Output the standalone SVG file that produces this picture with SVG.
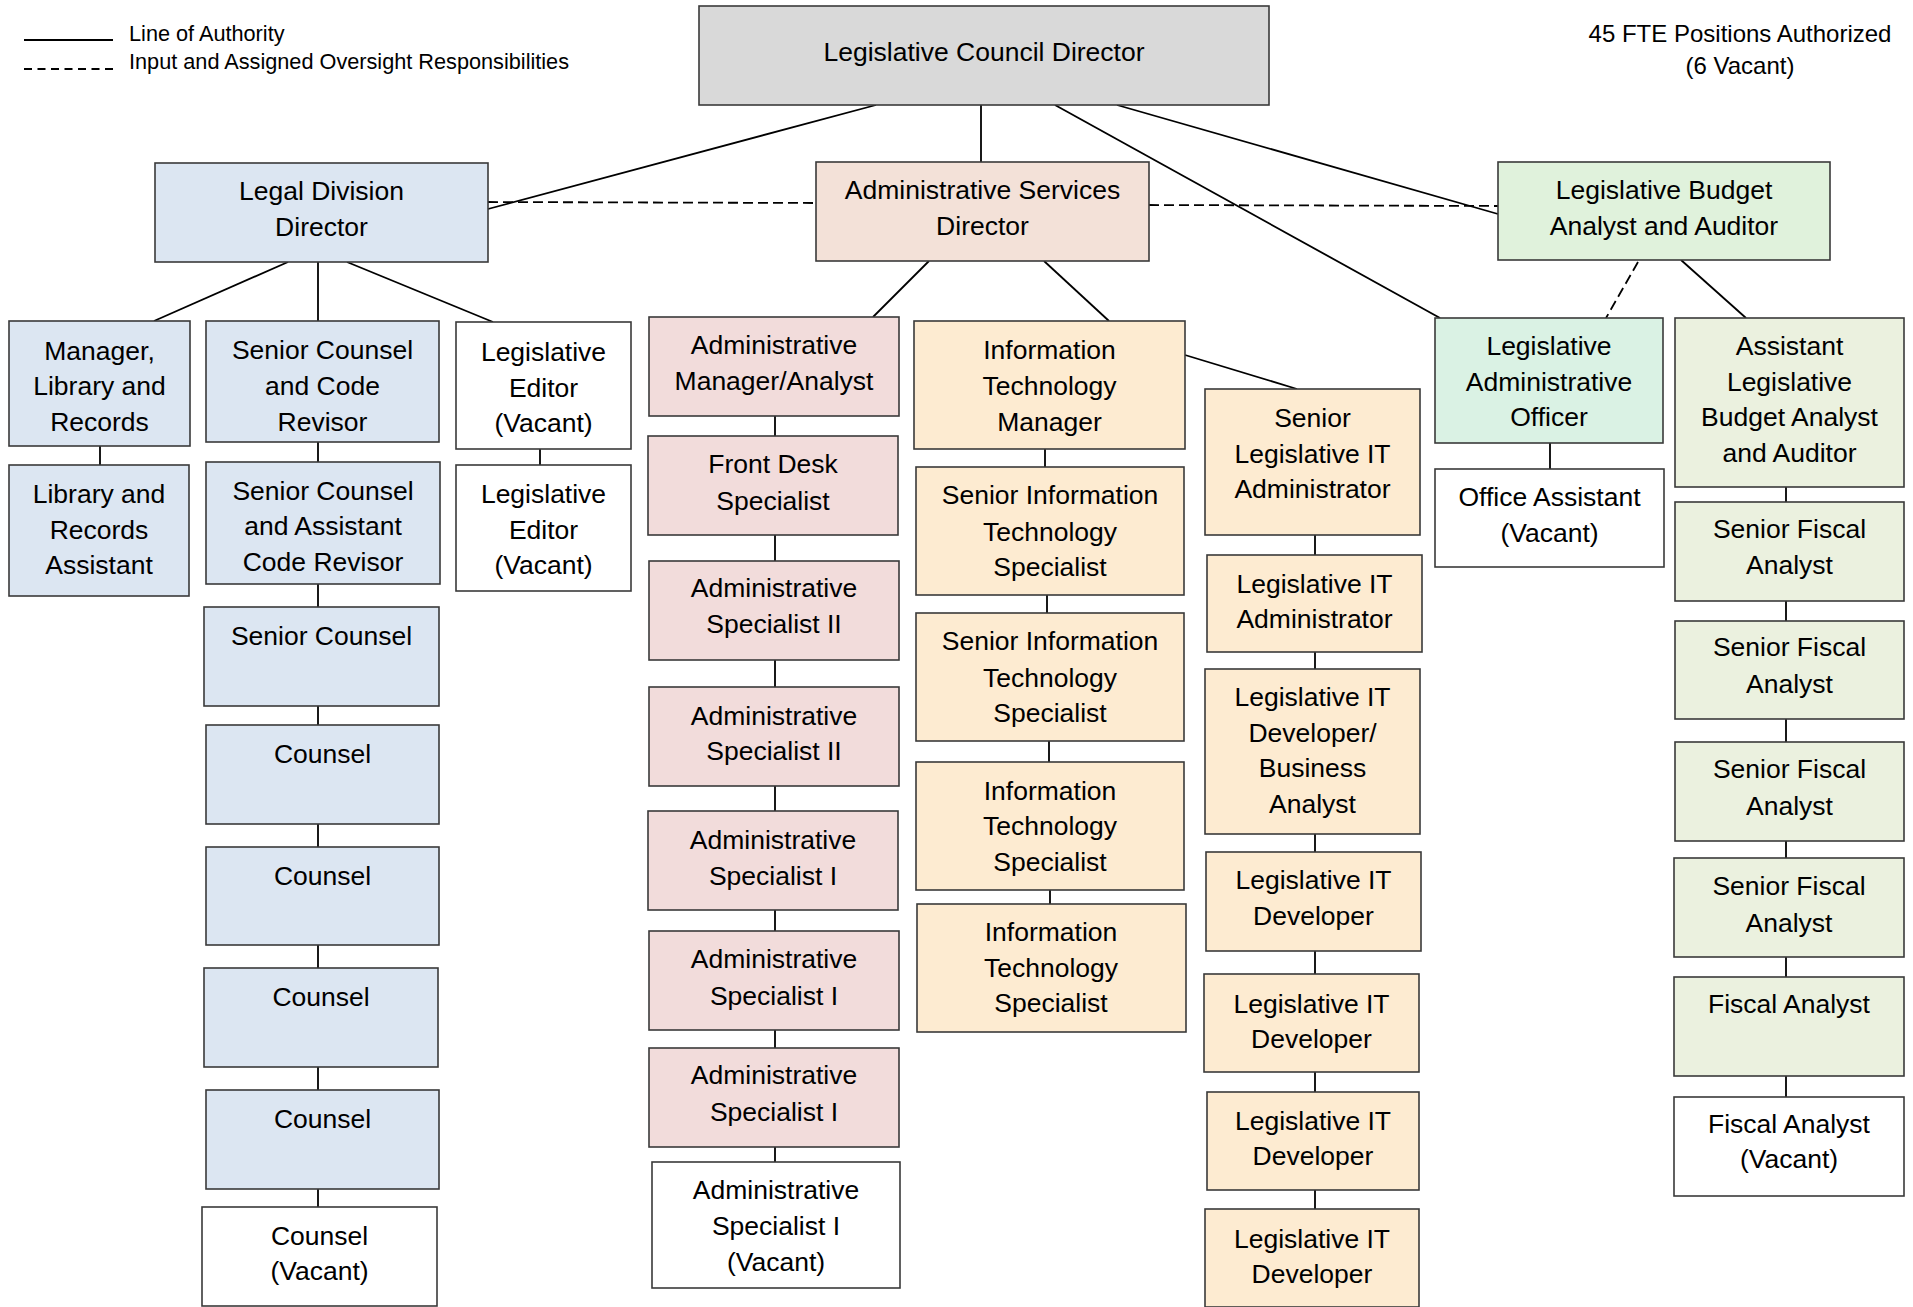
<svg xmlns="http://www.w3.org/2000/svg" width="1913" height="1307" viewBox="0 0 1913 1307">
<style>
  .box { stroke: #3a3a3a; stroke-width: 1.6; }
  .gray { fill: #d9d9d9; }
  .blue { fill: #dce6f2; }
  .peach { fill: #f3e1d8; }
  .pink { fill: #f2dcdb; }
  .orange { fill: #fdebd1; }
  .green { fill: #e0f2dc; }
  .mint { fill: #daf2e4; }
  .olive { fill: #ebf1df; }
  .white { fill: #ffffff; }
  text { font-family: "Liberation Sans", Arial, sans-serif; fill: #000; }
  .n { font-size: 26.5px; text-anchor: middle; }
  .legend { font-size: 21.7px; }
  .note { font-size: 24px; text-anchor: middle; }
  .line { stroke: #000; stroke-width: 1.8; fill: none; }
  .dash { stroke: #000; stroke-width: 1.8; fill: none; stroke-dasharray: 10 5; }
</style>
<rect x="0" y="0" width="1913" height="1307" fill="#ffffff"/>

<g id="legend">
  <line class="line" x1="24" y1="40" x2="113" y2="40"/>
  <line class="dash" x1="24" y1="69" x2="113" y2="69" style="stroke-dasharray:8 5.5"/>
  <text class="legend" x="129" y="41">Line of Authority</text>
  <text class="legend" x="129" y="69">Input and Assigned Oversight Responsibilities</text>
</g>
<g id="fte-note">
  <text class="note" x="1740" y="42">45 FTE Positions Authorized</text>
  <text class="note" x="1740" y="74">(6 Vacant)</text>
</g>

<g id="connectors">
  <!-- top level -->
  <line class="line" x1="876" y1="105" x2="488" y2="209"/>
  <line class="line" x1="981" y1="105" x2="981" y2="162"/>
  <line class="line" x1="1055" y1="105" x2="1440" y2="318"/>
  <line class="line" x1="1117" y1="105" x2="1498" y2="214"/>
  <line class="dash" x1="488" y1="202" x2="816" y2="203"/>
  <line class="dash" x1="1149" y1="205" x2="1498" y2="206"/>
  <line class="dash" x1="1638" y1="262" x2="1606" y2="318"/>
  <line class="line" x1="1681" y1="260" x2="1746" y2="318"/>
  <!-- legal -->
  <line class="line" x1="288" y1="262" x2="154" y2="321"/>
  <line class="line" x1="318" y1="262" x2="318" y2="321"/>
  <line class="line" x1="347" y1="262" x2="493" y2="322"/>
  <line class="line" x1="100" y1="446" x2="100" y2="465"/>
  <line class="line" x1="540" y1="449" x2="540" y2="465"/>
  <line class="line" x1="318" y1="442" x2="318" y2="462"/>
  <line class="line" x1="318" y1="584" x2="318" y2="607"/>
  <line class="line" x1="318" y1="706" x2="318" y2="725"/>
  <line class="line" x1="318" y1="824" x2="318" y2="847"/>
  <line class="line" x1="318" y1="945" x2="318" y2="968"/>
  <line class="line" x1="318" y1="1067" x2="318" y2="1090"/>
  <line class="line" x1="318" y1="1189" x2="318" y2="1207"/>
  <!-- admin -->
  <line class="line" x1="929" y1="261" x2="873" y2="317"/>
  <line class="line" x1="1044" y1="261" x2="1109" y2="321"/>
  <line class="line" x1="775" y1="416" x2="775" y2="436"/>
  <line class="line" x1="775" y1="535" x2="775" y2="561"/>
  <line class="line" x1="775" y1="660" x2="775" y2="687"/>
  <line class="line" x1="775" y1="786" x2="775" y2="811"/>
  <line class="line" x1="775" y1="910" x2="775" y2="931"/>
  <line class="line" x1="775" y1="1030" x2="775" y2="1048"/>
  <line class="line" x1="775" y1="1147" x2="775" y2="1162"/>
  <!-- IT -->
  <line class="line" x1="1045" y1="449" x2="1045" y2="467"/>
  <line class="line" x1="1047" y1="595" x2="1047" y2="613"/>
  <line class="line" x1="1049" y1="741" x2="1049" y2="762"/>
  <line class="line" x1="1050" y1="890" x2="1050" y2="904"/>
  <line class="line" x1="1185" y1="355" x2="1297" y2="389"/>
  <line class="line" x1="1315" y1="535" x2="1315" y2="555"/>
  <line class="line" x1="1315" y1="652" x2="1315" y2="669"/>
  <line class="line" x1="1315" y1="834" x2="1315" y2="852"/>
  <line class="line" x1="1315" y1="951" x2="1315" y2="974"/>
  <line class="line" x1="1315" y1="1072" x2="1315" y2="1092"/>
  <line class="line" x1="1315" y1="1190" x2="1315" y2="1209"/>
  <!-- budget -->
  <line class="line" x1="1550" y1="443" x2="1550" y2="469"/>
  <line class="line" x1="1786" y1="487" x2="1786" y2="502"/>
  <line class="line" x1="1786" y1="601" x2="1786" y2="621"/>
  <line class="line" x1="1786" y1="719" x2="1786" y2="742"/>
  <line class="line" x1="1786" y1="841" x2="1786" y2="858"/>
  <line class="line" x1="1786" y1="957" x2="1786" y2="977"/>
  <line class="line" x1="1786" y1="1076" x2="1786" y2="1097"/>
</g>

<g id="council-director"><rect class="box gray" x="699" y="6" width="570" height="99"/><text class="n" x="984" y="61">Legislative Council Director</text></g>
<g id="legal-director"><rect class="box blue" x="155" y="163" width="333" height="99"/><text class="n" x="321.5" y="200">Legal Division</text><text class="n" x="321.5" y="236">Director</text></g>
<g id="admin-director"><rect class="box peach" x="816" y="162" width="333" height="99"/><text class="n" x="982.5" y="199">Administrative Services</text><text class="n" x="982.5" y="235">Director</text></g>
<g id="budget-analyst-auditor"><rect class="box green" x="1498" y="162" width="332" height="98"/><text class="n" x="1664" y="199">Legislative Budget</text><text class="n" x="1664" y="235">Analyst and Auditor</text></g>

<g id="manager-library"><rect class="box blue" x="9" y="321" width="181" height="125"/><text class="n" x="99.5" y="360">Manager,</text><text class="n" x="99.5" y="395">Library and</text><text class="n" x="99.5" y="431">Records</text></g>
<g id="library-assistant"><rect class="box blue" x="9" y="465" width="180" height="131"/><text class="n" x="99" y="503">Library and</text><text class="n" x="99" y="539">Records</text><text class="n" x="99" y="574">Assistant</text></g>
<g id="senior-counsel-code-revisor"><rect class="box blue" x="206" y="321" width="233" height="121"/><text class="n" x="322.5" y="359">Senior Counsel</text><text class="n" x="322.5" y="395">and Code</text><text class="n" x="322.5" y="431">Revisor</text></g>
<g id="senior-counsel-asst-revisor"><rect class="box blue" x="206" y="462" width="234" height="122"/><text class="n" x="323" y="500">Senior Counsel</text><text class="n" x="323" y="535">and Assistant</text><text class="n" x="323" y="571">Code Revisor</text></g>
<g id="senior-counsel"><rect class="box blue" x="204" y="607" width="235" height="99"/><text class="n" x="321.5" y="645">Senior Counsel</text></g>
<g id="counsel-1"><rect class="box blue" x="206" y="725" width="233" height="99"/><text class="n" x="322.5" y="763">Counsel</text></g>
<g id="counsel-2"><rect class="box blue" x="206" y="847" width="233" height="98"/><text class="n" x="322.5" y="885">Counsel</text></g>
<g id="counsel-3"><rect class="box blue" x="204" y="968" width="234" height="99"/><text class="n" x="321" y="1006">Counsel</text></g>
<g id="counsel-4"><rect class="box blue" x="206" y="1090" width="233" height="99"/><text class="n" x="322.5" y="1128">Counsel</text></g>
<g id="counsel-vacant"><rect class="box white" x="202" y="1207" width="235" height="99"/><text class="n" x="319.5" y="1245">Counsel</text><text class="n" x="319.5" y="1280">(Vacant)</text></g>
<g id="legislative-editor-1"><rect class="box white" x="456" y="322" width="175" height="127"/><text class="n" x="543.5" y="361">Legislative</text><text class="n" x="543.5" y="397">Editor</text><text class="n" x="543.5" y="432">(Vacant)</text></g>
<g id="legislative-editor-2"><rect class="box white" x="456" y="465" width="175" height="126"/><text class="n" x="543.5" y="503">Legislative</text><text class="n" x="543.5" y="539">Editor</text><text class="n" x="543.5" y="574">(Vacant)</text></g>

<g id="admin-manager"><rect class="box pink" x="649" y="317" width="250" height="99"/><text class="n" x="774" y="354">Administrative</text><text class="n" x="774" y="390">Manager/Analyst</text></g>
<g id="front-desk"><rect class="box pink" x="648" y="436" width="250" height="99"/><text class="n" x="773" y="473">Front Desk</text><text class="n" x="773" y="510">Specialist</text></g>
<g id="admin-specialist-ii-1"><rect class="box pink" x="649" y="561" width="250" height="99"/><text class="n" x="774" y="597">Administrative</text><text class="n" x="774" y="633">Specialist II</text></g>
<g id="admin-specialist-ii-2"><rect class="box pink" x="649" y="687" width="250" height="99"/><text class="n" x="774" y="725">Administrative</text><text class="n" x="774" y="760">Specialist II</text></g>
<g id="admin-specialist-i-1"><rect class="box pink" x="648" y="811" width="250" height="99"/><text class="n" x="773" y="849">Administrative</text><text class="n" x="773" y="885">Specialist I</text></g>
<g id="admin-specialist-i-2"><rect class="box pink" x="649" y="931" width="250" height="99"/><text class="n" x="774" y="968">Administrative</text><text class="n" x="774" y="1005">Specialist I</text></g>
<g id="admin-specialist-i-3"><rect class="box pink" x="649" y="1048" width="250" height="99"/><text class="n" x="774" y="1084">Administrative</text><text class="n" x="774" y="1121">Specialist I</text></g>
<g id="admin-specialist-i-vacant"><rect class="box white" x="652" y="1162" width="248" height="126"/><text class="n" x="776" y="1199">Administrative</text><text class="n" x="776" y="1235">Specialist I</text><text class="n" x="776" y="1271">(Vacant)</text></g>

<g id="it-manager"><rect class="box orange" x="914" y="321" width="271" height="128"/><text class="n" x="1049.5" y="359">Information</text><text class="n" x="1049.5" y="395">Technology</text><text class="n" x="1049.5" y="431">Manager</text></g>
<g id="senior-it-specialist-1"><rect class="box orange" x="916" y="467" width="268" height="128"/><text class="n" x="1050" y="504">Senior Information</text><text class="n" x="1050" y="541">Technology</text><text class="n" x="1050" y="576">Specialist</text></g>
<g id="senior-it-specialist-2"><rect class="box orange" x="916" y="613" width="268" height="128"/><text class="n" x="1050" y="650">Senior Information</text><text class="n" x="1050" y="687">Technology</text><text class="n" x="1050" y="722">Specialist</text></g>
<g id="it-specialist-1"><rect class="box orange" x="916" y="762" width="268" height="128"/><text class="n" x="1050" y="800">Information</text><text class="n" x="1050" y="835">Technology</text><text class="n" x="1050" y="871">Specialist</text></g>
<g id="it-specialist-2"><rect class="box orange" x="917" y="904" width="269" height="128"/><text class="n" x="1051" y="941">Information</text><text class="n" x="1051" y="977">Technology</text><text class="n" x="1051" y="1012">Specialist</text></g>

<g id="senior-leg-it-admin"><rect class="box orange" x="1205" y="389" width="215" height="146"/><text class="n" x="1312.5" y="427">Senior</text><text class="n" x="1312.5" y="463">Legislative IT</text><text class="n" x="1312.5" y="498">Administrator</text></g>
<g id="leg-it-admin"><rect class="box orange" x="1207" y="555" width="215" height="97"/><text class="n" x="1314.5" y="593">Legislative IT</text><text class="n" x="1314.5" y="628">Administrator</text></g>
<g id="leg-it-dev-ba"><rect class="box orange" x="1205" y="669" width="215" height="165"/><text class="n" x="1312.5" y="706">Legislative IT</text><text class="n" x="1312.5" y="742">Developer/</text><text class="n" x="1312.5" y="777">Business</text><text class="n" x="1312.5" y="813">Analyst</text></g>
<g id="leg-it-dev-1"><rect class="box orange" x="1206" y="852" width="215" height="99"/><text class="n" x="1313.5" y="889">Legislative IT</text><text class="n" x="1313.5" y="925">Developer</text></g>
<g id="leg-it-dev-2"><rect class="box orange" x="1204" y="974" width="215" height="98"/><text class="n" x="1311.5" y="1013">Legislative IT</text><text class="n" x="1311.5" y="1048">Developer</text></g>
<g id="leg-it-dev-3"><rect class="box orange" x="1207" y="1092" width="212" height="98"/><text class="n" x="1313" y="1130">Legislative IT</text><text class="n" x="1313" y="1165">Developer</text></g>
<g id="leg-it-dev-4"><rect class="box orange" x="1205" y="1209" width="214" height="98"/><text class="n" x="1312" y="1248">Legislative IT</text><text class="n" x="1312" y="1283">Developer</text></g>

<g id="leg-admin-officer"><rect class="box mint" x="1435" y="318" width="228" height="125"/><text class="n" x="1549" y="355">Legislative</text><text class="n" x="1549" y="391">Administrative</text><text class="n" x="1549" y="426">Officer</text></g>
<g id="office-assistant"><rect class="box white" x="1435" y="469" width="229" height="98"/><text class="n" x="1549.5" y="506">Office Assistant</text><text class="n" x="1549.5" y="542">(Vacant)</text></g>

<g id="asst-budget-analyst"><rect class="box olive" x="1675" y="318" width="229" height="169"/><text class="n" x="1789.5" y="355">Assistant</text><text class="n" x="1789.5" y="391">Legislative</text><text class="n" x="1789.5" y="426">Budget Analyst</text><text class="n" x="1789.5" y="462">and Auditor</text></g>
<g id="senior-fiscal-1"><rect class="box olive" x="1675" y="502" width="229" height="99"/><text class="n" x="1789.5" y="538">Senior Fiscal</text><text class="n" x="1789.5" y="574">Analyst</text></g>
<g id="senior-fiscal-2"><rect class="box olive" x="1675" y="621" width="229" height="98"/><text class="n" x="1789.5" y="656">Senior Fiscal</text><text class="n" x="1789.5" y="693">Analyst</text></g>
<g id="senior-fiscal-3"><rect class="box olive" x="1675" y="742" width="229" height="99"/><text class="n" x="1789.5" y="778">Senior Fiscal</text><text class="n" x="1789.5" y="815">Analyst</text></g>
<g id="senior-fiscal-4"><rect class="box olive" x="1674" y="858" width="230" height="99"/><text class="n" x="1789" y="895">Senior Fiscal</text><text class="n" x="1789" y="932">Analyst</text></g>
<g id="fiscal-analyst"><rect class="box olive" x="1674" y="977" width="230" height="99"/><text class="n" x="1789" y="1013">Fiscal Analyst</text></g>
<g id="fiscal-analyst-vacant"><rect class="box white" x="1674" y="1097" width="230" height="99"/><text class="n" x="1789" y="1133">Fiscal Analyst</text><text class="n" x="1789" y="1168">(Vacant)</text></g>
</svg>
